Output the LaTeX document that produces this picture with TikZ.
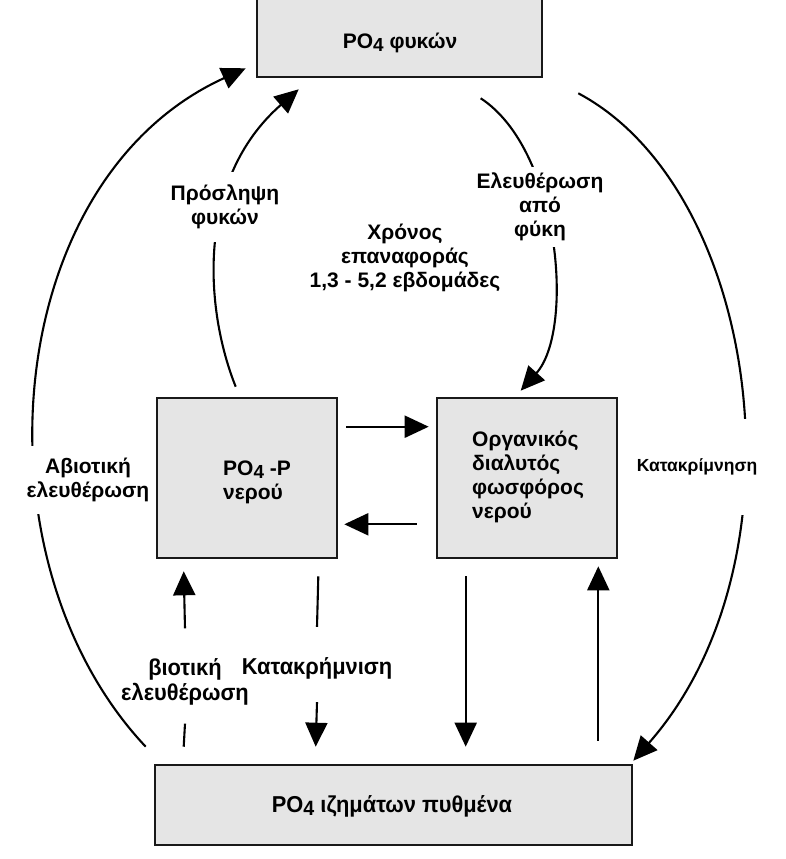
\documentclass[tikz,border=0pt]{standalone}
\usepackage{fontspec}
\usepackage{graphicx}
\setmainfont{Liberation Sans}
\newfontfamily\narrowfont[FakeStretch=0.95]{Liberation Sans}
\usetikzlibrary{arrows.meta}
\newcommand{\idx}[1]{\raisebox{-0.3ex}{\scalebox{0.9}{#1}}}

\tikzset{
  pool/.style  = {shape=rectangle, draw=black!90, line width=2.6pt, fill=black!10},
  lbl/.style   = {align=center, inner sep=1pt,
                  font=\fontsize{21}{24}\selectfont\bfseries},
  narrow/.style= {lbl, font=\fontsize{23}{25}\selectfont\narrowfont\bfseries},
  gap/.style   = {fill=white},
  line/.style  = {draw, line width=2.1pt},
  flow/.style  = {line, -{Triangle[length=24pt,width=22pt]}}
}

\begin{document}
\begin{tikzpicture}[x=1pt, y=-1pt]
\useasboundingbox[fill=white] (0,0) rectangle (786,859);

% pools
\node[pool, minimum width=285pt, minimum height=140pt] (algae) at (399.5,7) {};
\node[pool, minimum width=180pt, minimum height=160pt] (water) at (247,478) {};
\node[pool, minimum width=180pt, minimum height=160pt] (org) at (527,478) {};
\node[pool, minimum width=477pt, minimum height=80pt] (sed) at (393.5,805) {};

\node[lbl] (algaetxt) at (400,43) {PO\idx{4} φυκών};
\node[lbl, align=left, anchor=west] (watertxt) at (222,482) {PO\idx{4} -P\\νερού};
\node[lbl, align=left, anchor=west] (orgtxt) at (471,477)
  {Οργανικός\\διαλυτός\\φωσφόρος\\νερού};
\node[narrow] (sedtxt) at (392,806) {PO\idx{4} ιζημάτων πυθμένα};

\node[narrow] (bio) at (185,682) {βιοτική\\ελευθέρωση};
\node[narrow] (precip) at (317,668) {Κατακρήμνιση};

% fluxes
\draw[flow] ([shift={(-8,-17)}]sed.north west)
  .. controls (-30,560) and (0,180) .. ([shift={(-10,-10)}]algae.south west);
\draw[flow] ([shift={(80,-10)}]water.north west)
  .. controls (205,310) and (195,180) .. ([shift={(43,11)}]algae.south west);
\draw[flow] ([shift={(225,20)}]algae.south west)
  .. controls (560,150) and (575,330) .. ([shift={(85,-6)}]org.north west);
\draw[flow] ([shift={(35,15)}]algae.south east)
  .. controls (760,190) and (810,560) .. ([shift={(0,-3)}]sed.north east);

\draw[flow] ([shift={(8,30)}]water.north east) -- ([shift={(-7,30)}]org.north west);
\draw[flow] ([shift={(-19,-35)}]org.south west) -- ([shift={(6,-35)}]water.south east);

\draw[line] ([shift={(30,-17)}]sed.north west) -- ([yshift=-17pt]bio.south);
\draw[flow] ([yshift=29pt]bio.north) -- ([shift={(28,12)}]water.south west);
\draw[line] ([shift={(-20,17)}]water.south east) -- ([yshift=29pt]precip.north);
\draw[flow] ([yshift=-22pt]precip.south) -- ([shift={(162,-17)}]sed.north west);
\draw[flow] ([shift={(30,17)}]org.south west) -- ([shift={(312,-17)}]sed.north west);
\draw[flow] ([shift={(-35,-23)}]sed.north east) -- ([shift={(-20,7)}]org.south east);

% labels
\node[lbl, gap, inner ysep=12pt] (abio) at (88,480) {Αβιοτική\\ελευθέρωση};
\node[lbl, gap, inner ysep=13pt] (uptake) at (225,207) {Πρόσληψη\\φυκών};
\node[lbl, gap, inner ysep=6pt] (release) at (540,207) {Ελευθέρωση\\από\\φύκη};
\node[lbl] (turnover) at (405,258) {Χρόνος\\επαναφοράς\\1,3 - 5,2 εβδομάδες};
\node[lbl, gap, inner ysep=40pt, font=\fontsize{17.5}{20}\selectfont\bfseries]
  (settle) at (697,467) {Κατακρίμνηση};
\end{tikzpicture}
\end{document}
